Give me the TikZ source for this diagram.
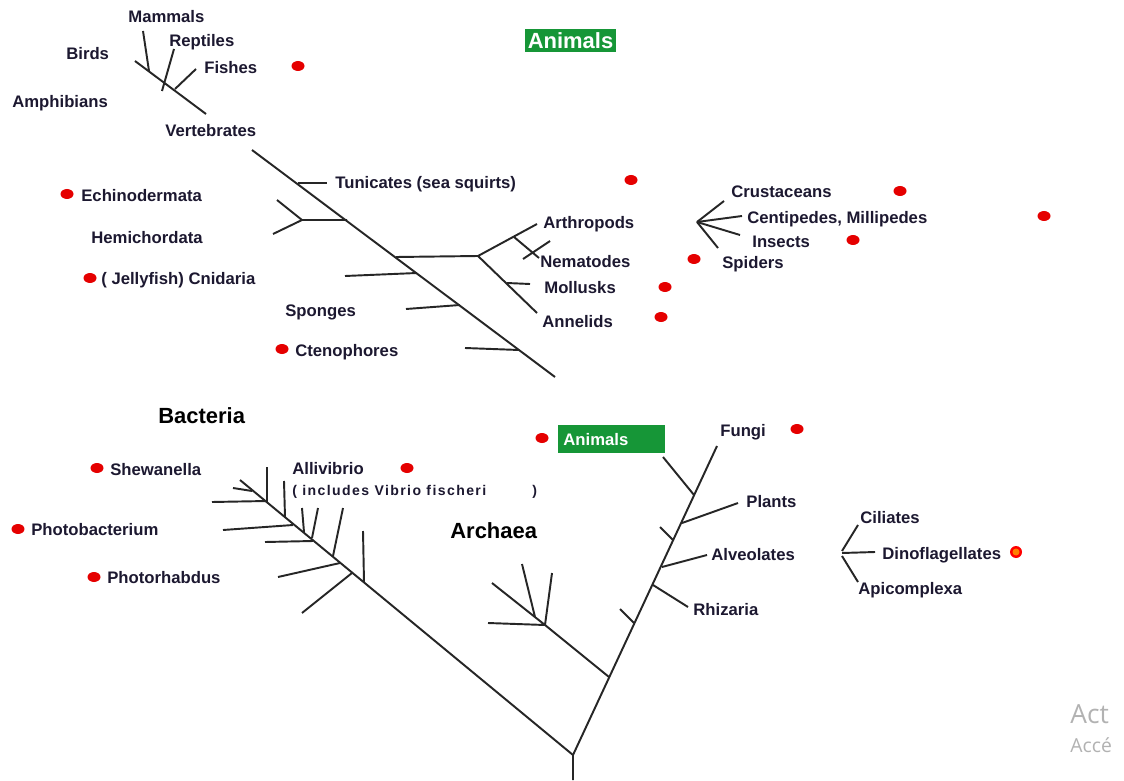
\documentclass[tikz,border=0pt]{standalone}
\usepackage{fontspec}
\setmainfont{Liberation Sans}
\newfontfamily\wmfont{Open Sans}
\newfontfamily\spacedfont[LetterSpace=10]{Liberation Sans}
\usepackage{tikz}
\usetikzlibrary{positioning,calc}
\definecolor{leafgreen}{RGB}{22,150,55}
\definecolor{inkblue}{RGB}{28,24,48}
\tikzset{
  branch/.style={line width=1.1pt,black!85},
  taxon/.style={font=\bfseries\fontsize{9.5}{11}\selectfont,text=inkblue,inner sep=0pt,anchor=mid west,yshift=-0.04cm},
  group/.style={font=\bfseries\fontsize{12.5}{14}\selectfont,inner sep=0pt,anchor=mid west,yshift=-0.06cm},
  greenbox/.style={fill=leafgreen,text=white,font=\bfseries\fontsize{9.5}{11}\selectfont}
}

\begin{document}
\begin{tikzpicture}[x=0.02cm,y=-0.02cm]
  \useasboundingbox[fill=white] (0,0) rectangle (1124,780);

  \coordinate (vtop) at (135,61);
  \coordinate (vbase) at (206,114);
  \coordinate (atop) at (252,150);
  \coordinate (abase) at (555,377);
  \coordinate (arth) at (478,256);
  \coordinate (fan) at (697,222);
  \draw[branch] (vtop) -- (vbase);
  \draw[branch] (143,31) -- (149,71);
  \draw[branch] (174,49) -- (162,91);
  \draw[branch] (196,69) -- (175,89);
  \draw[branch] (atop) -- (abase);
  \draw[branch] (298,183) -- (327,183);
  \draw[branch] (347,220) -- (302,220) -- (277,200) (302,220) -- (273,234);
  \draw[branch] (396,257) -- (arth) -- (537,224) (arth) -- (537,313);
  \draw[branch] (514,237) -- (539,258) (550,241) -- (523,259) (507,283) -- (530,284);
  \draw[branch] (345,276) -- (417,273) (406,309) -- (460,305) (465,348) -- (519,350);
  \foreach \e in {(724,201),(742,216),(740,235),(718,248)} \draw[branch] (fan) -- \e;

  \node[greenbox,minimum width=1.82cm,minimum height=0.46cm,inner xsep=0.05cm,inner ysep=0.04cm,font=\bfseries\fontsize{12.5}{14}\selectfont] (animalstop) at (570.5,40.5) {Animals};
  \node[taxon] (mammals) at (128,16) {Mammals};
  \node[taxon] (reptiles) at (169,40) {Reptiles};
  \node[taxon] (birds) at (66,53) {Birds};
  \node[taxon] (fishes) at (204,67) {Fishes};
  \node[taxon] (amphibians) at (12,101) {Amphibians};
  \node[taxon] (vertebrates) at (165,130) {Vertebrates};
  \node[taxon] (tunicates) at (335,182) {Tunicates (sea squirts)};
  \node[taxon] (echino) at (81,195) {Echinodermata};
  \node[taxon] (hemi) at (91,237) {Hemichordata};
  \node[taxon] (cnidaria) at (101,278) {( Jellyfish) Cnidaria};
  \node[taxon] (sponges) at (285,310) {Sponges};
  \node[taxon] (cteno) at (295,350) {Ctenophores};
  \node[taxon] (arthropods) at (543,222) {Arthropods};
  \node[taxon] (nematodes) at (540,261) {Nematodes};
  \node[taxon] (mollusks) at (544,287) {Mollusks};
  \node[taxon] (annelids) at (542,321) {Annelids};
  \node[taxon] (crust) at (731,191) {Crustaceans};
  \node[taxon] (centi) at (747,217) {Centipedes, Millipedes};
  \node[taxon] (insects) at (752,241) {Insects};
  \node[taxon] (spiders) at (722,262) {Spiders};

  \coordinate (root) at (573,755);
  \coordinate (stem) at (573,780);
  \coordinate (btop) at (240,480);
  \coordinate (etop) at (717,446);
  \coordinate (arch) at (609,677);
  \coordinate (archfork) at (545,625);
  \draw[branch] (stem) -- (root) -- (btop);
  \draw[branch] (root) -- (etop);
  \draw[branch] (233,488) -- (252,491) (267,467) -- (267,502) (212,502) -- (267,501);
  \draw[branch] (284,481) -- (285,517) (223,530) -- (293,525);
  \draw[branch] (302,508) -- (304,532) (318,508) -- (312,538) (265,542) -- (313,541);
  \draw[branch] (343,508) -- (333,556) (278,577) -- (340,563);
  \draw[branch] (363,531) -- (364,582) (302,613) -- (352,573);
  \draw[branch] (arch) -- (archfork) -- (492,583) (archfork) -- (488,623) (archfork) -- (552,573) (535,617) -- (522,564);
  \draw[branch] (694,495) -- (663,457) (682,523) -- (738,503) (660,527) -- (673,540);
  \draw[branch] (662,567) -- (707,555) (653,585) -- (688,607) (620,609) -- (634,623);
  \draw[branch] (842,551) -- (858,525) (842,553) -- (875,552) (842,556) -- (858,582);

  \node[group] (bacteria) at (158,416) {Bacteria};
  \node[group] (archaea) at (450,531) {Archaea};
  \node[greenbox,text width=1.94cm,minimum height=0.56cm,inner xsep=0.1cm,align=left,anchor=north west] (animalsbox) at (558,425) {Animals};
  \node[taxon] (shewanella) at (110,469) {Shewanella};
  \node[taxon] (photobact) at (31,529) {Photobacterium};
  \node[taxon] (photorhab) at (107,577) {Photorhabdus};
  \node[taxon] (allivibrio) at (292,468) {Allivibrio};
  \node[taxon,font=\spacedfont\bfseries\fontsize{8}{9}\selectfont] (vibrio) at (292,489) {( includes Vibrio fischeri};
  \node[taxon,font=\bfseries\fontsize{8}{9}\selectfont] (vibrioend) at (532,489) {)};
  \node[taxon] (fungi) at (720,430) {Fungi};
  \node[taxon] (plants) at (746,501) {Plants};
  \node[taxon] (alveolates) at (711,554) {Alveolates};
  \node[taxon] (rhizaria) at (693,609) {Rhizaria};
  \node[taxon] (ciliates) at (860,517) {Ciliates};
  \node[taxon] (dino) at (882,553) {Dinoflagellates};
  \node[taxon] (apicom) at (858,588) {Apicomplexa};

  \foreach \p in {(298,66),(631,180),(67,194),(90,278),(282,349),(694,259),(665,287),(661,317),(900,191),(1044,216),(853,240),(542,438),(797,429),(97,468),(18,529),(94,577),(407,468)}
    \fill[red!90!black] \p ellipse (0.13cm and 0.1cm);
  \fill[red] (1016,552) circle (0.12cm);
  \fill[orange] (1016,552) circle (0.07cm);

  \node[font=\wmfont\fontsize{15}{17}\selectfont,text=black!30,inner sep=0pt,anchor=mid west] (wm1) at (1070,719) {Act};
  \node[font=\wmfont\fontsize{11}{13}\selectfont,text=black!30,inner sep=0pt,anchor=mid west] (wm2) at (1070,748) {Accé};
\end{tikzpicture}
\end{document}
